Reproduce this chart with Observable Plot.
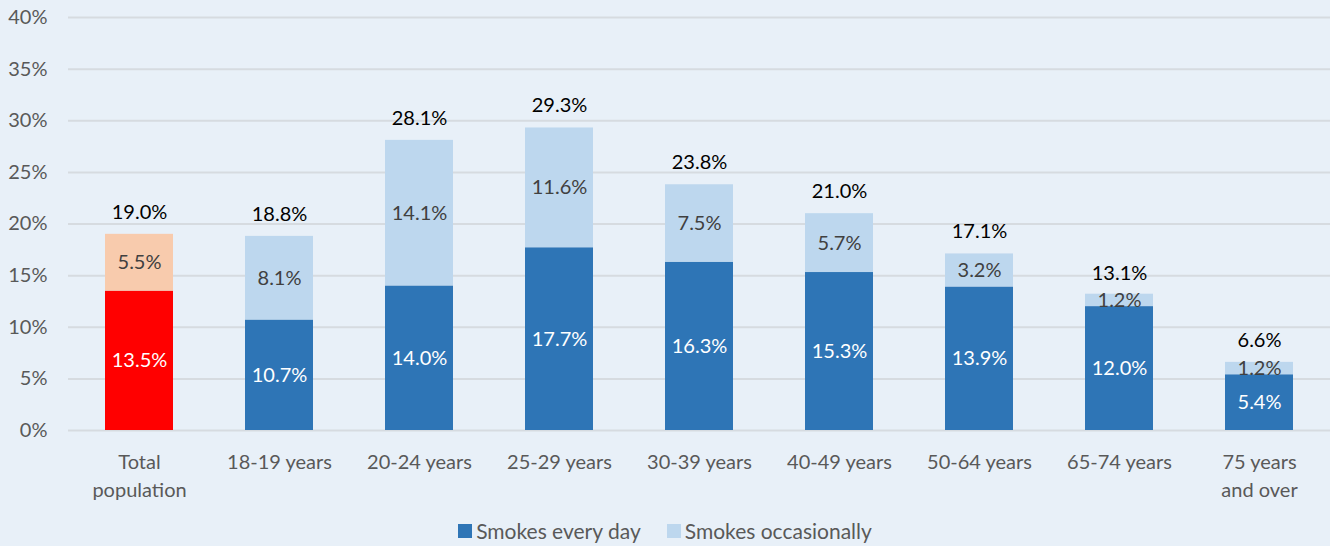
<!DOCTYPE html>
<html>
<head>
<meta charset="utf-8">
<script src="https://cdn.jsdelivr.net/npm/d3@7"></script>
<script src="https://cdn.jsdelivr.net/npm/@observablehq/plot@0.6"></script>
<style>
  html, body { margin: 0; padding: 0; background: #e8f0f8; }
  #chart { width: 1330px; }
  .legend {
    display: flex; justify-content: center; align-items: center; gap: 26px;
    font-family: Lato, "Open Sans", sans-serif; font-size: 21px; color: #595959;
    height: 31px; padding-left: 0px;
  }
  .legend span.item { display: flex; align-items: center; gap: 4px; }
  .legend i { display: inline-block; width: 14px; height: 14px; }
</style>
</head>
<body>
<div id="chart"></div>
<script>
// Share of adults who smoke, by age group
const categories = ["Total population", "18-19 years", "20-24 years", "25-29 years", "30-39 years",
  "40-49 years", "50-64 years", "65-74 years", "75 years and over"];
const tickLabels = ["Total\npopulation", "18-19 years", "20-24 years", "25-29 years", "30-39 years",
  "40-49 years", "50-64 years", "65-74 years", "75 years\nand over"];
const everyDay = [13.5, 10.7, 14.0, 17.7, 16.3, 15.3, 13.9, 12.0, 5.4];
const occasionally = [5.5, 8.1, 14.1, 11.6, 7.5, 5.7, 3.2, 1.2, 1.2];
const totals = [19.0, 18.8, 28.1, 29.3, 23.8, 21.0, 17.1, 13.1, 6.6];
const seriesNames = ["Smokes every day", "Smokes occasionally"];
const yTicks = [0, 5, 10, 15, 20, 25, 30, 35, 40];

// Palette: the total column is highlighted in red tones
const palette = {
  total: {every: "#ff0000", occ: "#f8cbad"},
  group: {every: "#2e75b6", occ: "#bdd7ee"}
};

const rows = categories.flatMap((cat, i) => {
  const p = i === 0 ? palette.total : palette.group;
  return [
    {cat, series: "every", value: everyDay[i], fill: p.every},
    {cat, series: "occ", value: occasionally[i], fill: p.occ}
  ];
});
const totalRows = categories.map((cat, i) => ({cat, total: totals[i]}));
const fmt = v => v.toFixed(1) + "%";

const chart = Plot.plot({
  width: 1330,
  height: 515,
  marginTop: 17,
  marginBottom: 85,
  marginLeft: 68,
  marginRight: 0,
  style: {background: "transparent", fontFamily: "Lato, 'Open Sans', sans-serif", fontSize: "20px"},
  x: {domain: categories, paddingInner: 0.515, paddingOuter: 0.2575, label: null},
  y: {domain: [0, 40], label: null},
  color: {type: "identity"},
  marks: [
    Plot.gridY(yTicks, {stroke: "#d6dbe0", strokeOpacity: 1, strokeWidth: 2}),
    Plot.axisY(yTicks, {tickSize: 0, tickPadding: 21, tickFormat: d => d + "%", fill: "#595959", fontSize: 20}),
    Plot.axisX({tickSize: 0, tickPadding: 19, lineHeight: 1.4, fill: "#595959", fontSize: 20,
      tickFormat: d => tickLabels[categories.indexOf(d)]}),
    Plot.barY(rows, {x: "cat", y: "value", fill: "fill"}),
    Plot.text(rows, Plot.stackY({x: "cat", y: "value", text: d => fmt(d.value),
      fill: d => d.series === "every" ? "#ffffff" : "#404040", fontSize: 20})),
    Plot.text(totalRows, {x: "cat", y: "total", dy: -22, text: d => fmt(d.total), fill: "#000000", fontSize: 20})
  ]
});
document.getElementById("chart").append(chart);

// Legend below the plot
const legend = document.createElement("div");
legend.className = "legend";
const swatches = [palette.group.every, palette.group.occ];
seriesNames.forEach((name, i) => {
  const item = document.createElement("span");
  item.className = "item";
  const sw = document.createElement("i");
  sw.style.background = swatches[i];
  item.append(sw, document.createTextNode(name));
  legend.append(item);
});
document.body.append(legend);
</script>
</body>
</html>
